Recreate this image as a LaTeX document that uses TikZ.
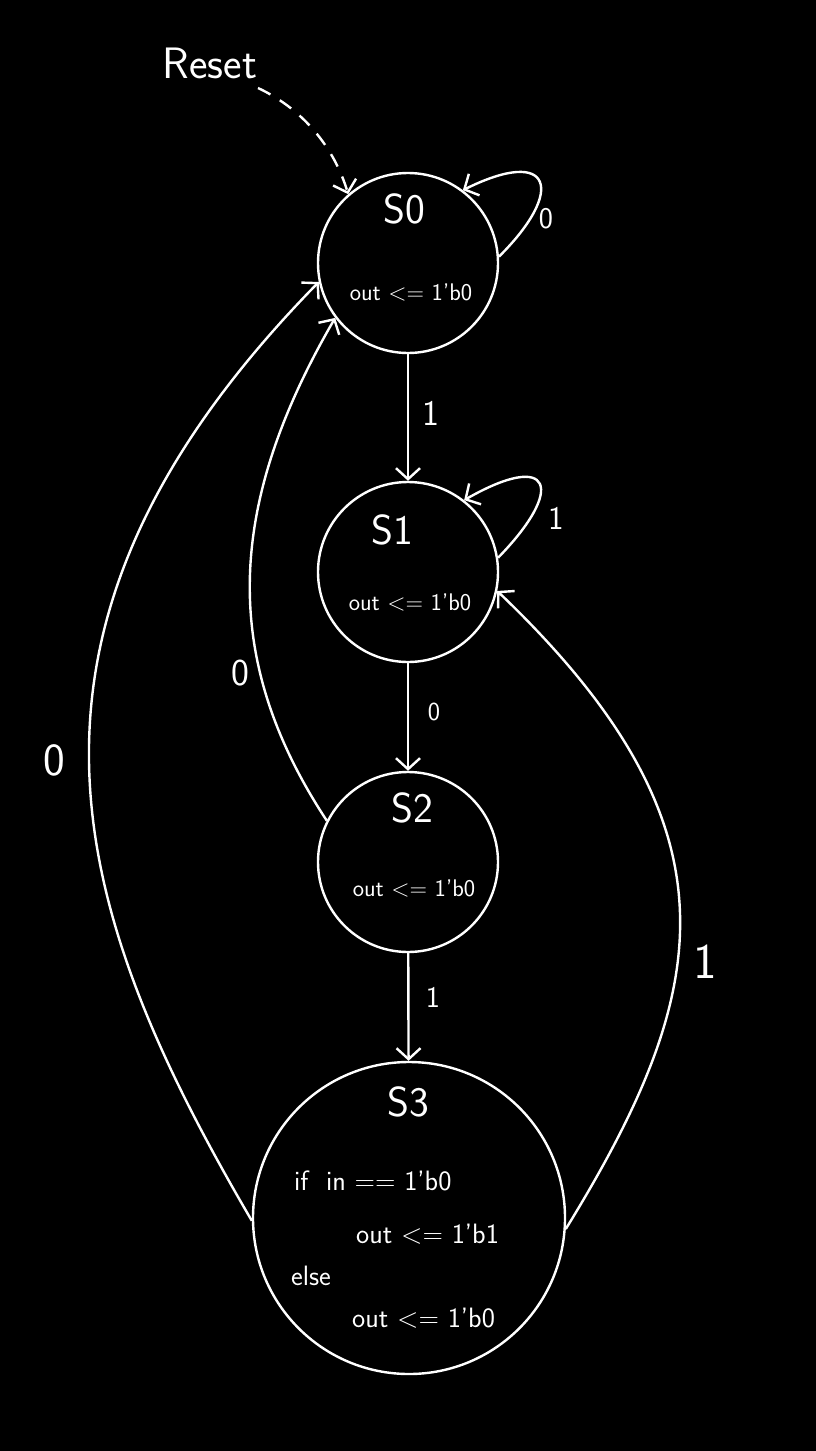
\documentclass[tikz,border=0pt]{standalone}
\usetikzlibrary{arrows.meta}
\begin{document}
\begin{tikzpicture}[x=1pt,y=-1pt,
  every node/.style={text=white},
  state/.style={circle, draw=white, line width=2.4pt, inner sep=0pt},
  edge/.style={draw=white, line width=2.4pt, -{Straight Barb[length=11pt,width=24pt]}},
  lbl/.style={text=white, inner sep=0pt},
  fs/.style={font=\sffamily\fontsize{#1}{#1}\selectfont},
]
\fill[black] (0,0) rectangle (816,1451);
\useasboundingbox (0,0) rectangle (816,1451);

% states
\node[state, minimum size=180pt] (S0) at (408,263) {};
\node[state, minimum size=180pt] (S1) at (408,572) {};
\node[state, minimum size=180pt] (S2) at (408,862) {};
\node[state, minimum size=312pt] (S3) at (409,1218) {};

% state texts
\node[lbl, fs=42] (t0) at (404,209) {S0};
\node[lbl, fs=24] (o0) at (411,293) {out <= 1'b0};
\node[lbl, fs=42] (t1) at (392,530) {S1};
\node[lbl, fs=24] (o1) at (410,602) {out <= 1'b0};
\node[lbl, fs=42] (t2) at (412,808) {S2};
\node[lbl, fs=24] (o2) at (414,888) {out <= 1'b0};
\node[lbl, fs=42] (t3) at (408,1102) {S3};
\node[lbl, fs=28, anchor=west] (c1) at (294,1181) {if\ \ in == 1'b0};
\node[lbl, fs=28, anchor=west] (c2) at (356,1234) {out <= 1'b1};
\node[lbl, fs=28, anchor=west] (c3) at (291,1276) {else};
\node[lbl, fs=28, anchor=west] (c4) at (352,1318) {out <= 1'b0};

% reset
\node[lbl, fs=44] (reset) at (210,63) {Reset};
\coordinate (rs) at (258,88);
\draw[edge, dash pattern=on 14pt off 11pt] (rs) .. controls (305,110) and (335,150) .. (S0.131);

% self loops
\draw[edge] (S0.4) .. controls (566,190) and (552,146) .. (S0.53);
\node[lbl, fs=30] (l00) at (546,219) {0};
\draw[edge] (S1.9) .. controls (566,488) and (552,450) .. (S1.52);
\node[lbl, fs=33] (l11) at (556,518) {1};

% straight transitions
\draw[edge] (S0) -- (S1);
\node[lbl, fs=36] (l01) at (431,413) {1};
\draw[edge] (S1.south) -- (S2.north);
\node[lbl, fs=26] (l12) at (434,712) {0};
\draw[edge] (S2) -- (S3);
\node[lbl, fs=30] (l23) at (433,997) {1};

% curved transitions
\draw[edge] (S2.153) .. controls (221,660) and (225,508) .. (S0.217);
\node[lbl, fs=38] (l20) at (240,673) {0};
\draw[edge] (S3.181) .. controls (70,910) and (-22,630) .. (S0.192);
\node[lbl, fs=46] (l30) at (54,760) {0};
\draw[edge] (S3.356) .. controls (712,991) and (746,829) .. (S1.348);
\node[lbl, fs=50] (l31) at (705,962) {1};
\end{tikzpicture}
\end{document}
